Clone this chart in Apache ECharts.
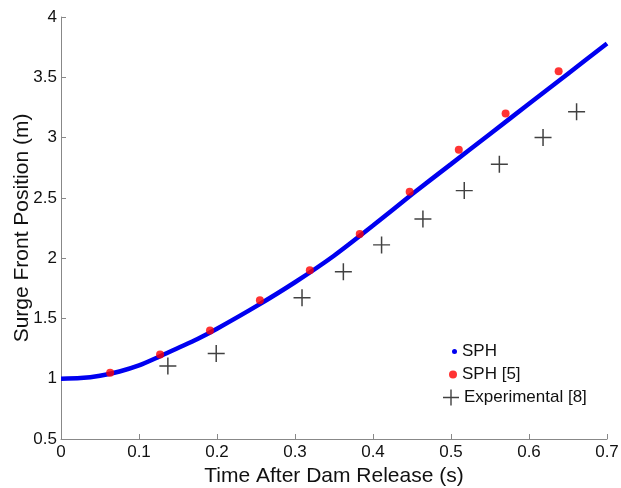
<!DOCTYPE html>
<html>
<head>
<meta charset="utf-8">
<script src="https://cdn.jsdelivr.net/npm/echarts@6/dist/echarts.min.js"></script>
<style>
  html, body { margin: 0; padding: 0; background: #fff; }
  #chart { width: 621px; height: 488px; }
</style>
</head>
<body>
<div id="chart"></div>
<script>
  // SPH (this work) - dense curve
  const sphX = [0, 0.025, 0.05, 0.075, 0.1, 0.125, 0.15, 0.175, 0.2, 0.25, 0.3, 0.35, 0.4, 0.45, 0.5, 0.55, 0.6, 0.65, 0.7]
  const sphY = [1.0, 1.005, 1.025, 1.06, 1.11, 1.18, 1.255, 1.33, 1.415, 1.6, 1.8, 2.02, 2.27, 2.53, 2.78, 3.03, 3.28, 3.53, 3.78]

  // SPH [5]
  const refX = [0.063, 0.127, 0.191, 0.255, 0.319, 0.383, 0.447, 0.51, 0.57, 0.638]
  const refY = [1.05, 1.2, 1.4, 1.65, 1.9, 2.2, 2.55, 2.9, 3.2, 3.55]

  // Experimental [8]
  const expX = [0.137, 0.199, 0.309, 0.362, 0.411, 0.464, 0.517, 0.562, 0.618, 0.661]
  const expY = [1.105, 1.21, 1.672, 1.888, 2.11, 2.325, 2.56, 2.778, 3.0, 3.215]

  const seriesNames = ['SPH', 'SPH [5]', 'Experimental [8]']

  const zip = (xs, ys) => xs.map((x, i) => [x, ys[i]])
  const FONT = '"Liberation Sans", Arial, sans-serif'
  const plusIcon = 'path://M0,7.3H16V8.7H0Z M7.3,0H8.7V16H7.3Z'
  const fmt = (v) => String(Math.round(v * 10) / 10)

  const legendBase = {
    orient: 'vertical',
    selectedMode: false,
    textStyle: { fontFamily: FONT, fontSize: 17, color: '#111' },
  }

  const option = {
    animation: false,
    backgroundColor: '#fff',
    grid: { left: 61, right: 14, top: 17, bottom: 49, outerBoundsMode: 'none', containLabel: false },
    legend: [
      Object.assign({}, legendBase, {
        left: 447, top: 338, itemWidth: 5, itemHeight: 5,
        data: [{ name: seriesNames[0], icon: 'circle' }],
      }),
      Object.assign({}, legendBase, {
        left: 444, top: 361, itemWidth: 8, itemHeight: 8,
        data: [{ name: seriesNames[1], icon: 'circle' }],
      }),
      Object.assign({}, legendBase, {
        left: 438, top: 384, itemWidth: 16, itemHeight: 16,
        data: [{ name: seriesNames[2], icon: plusIcon }],
      }),
    ],
    xAxis: {
      type: 'value',
      min: 0,
      max: 0.7,
      interval: 0.1,
      name: 'Time After Dam Release (s)',
      nameLocation: 'middle',
      nameGap: 27,
      nameMoveOverlap: false,
      nameTextStyle: { fontFamily: FONT, fontSize: 21, color: '#111' },
      axisLine: { lineStyle: { color: '#888', width: 1 } },
      axisTick: { inside: true, length: 5, lineStyle: { color: '#888' } },
      axisLabel: { fontFamily: FONT, fontSize: 17, color: '#111', margin: 5, formatter: fmt },
      splitLine: { show: false },
    },
    yAxis: {
      type: 'value',
      min: 0.5,
      max: 4,
      interval: 0.5,
      name: 'Surge Front Position (m)',
      nameLocation: 'middle',
      nameGap: 28,
      nameMoveOverlap: false,
      nameTextStyle: { fontFamily: FONT, fontSize: 21, color: '#111' },
      axisLine: { show: true, lineStyle: { color: '#888', width: 1 } },
      axisTick: { show: true, inside: true, length: 5, lineStyle: { color: '#888' } },
      axisLabel: { fontFamily: FONT, fontSize: 17, color: '#111', margin: 4, formatter: fmt },
      splitLine: { show: false },
    },
    series: [
      {
        name: seriesNames[0],
        type: 'line',
        smooth: 0.25,
        showSymbol: false,
        symbol: 'circle',
        lineStyle: { color: '#0000f0', width: 4.5 },
        itemStyle: { color: '#0000f0' },
        data: zip(sphX, sphY),
        z: 2,
      },
      {
        name: seriesNames[1],
        type: 'scatter',
        symbol: 'circle',
        symbolSize: 8,
        itemStyle: { color: '#ff0000' },
        data: zip(refX, refY),
        z: 3,
      },
      {
        name: seriesNames[2],
        type: 'scatter',
        symbol: plusIcon,
        symbolSize: 17,
        itemStyle: { color: '#111' },
        data: zip(expX, expY),
        z: 3,
      },
    ],
  }

  const chart = echarts.init(document.getElementById('chart'))
  chart.setOption(option)
</script>
</body>
</html>
